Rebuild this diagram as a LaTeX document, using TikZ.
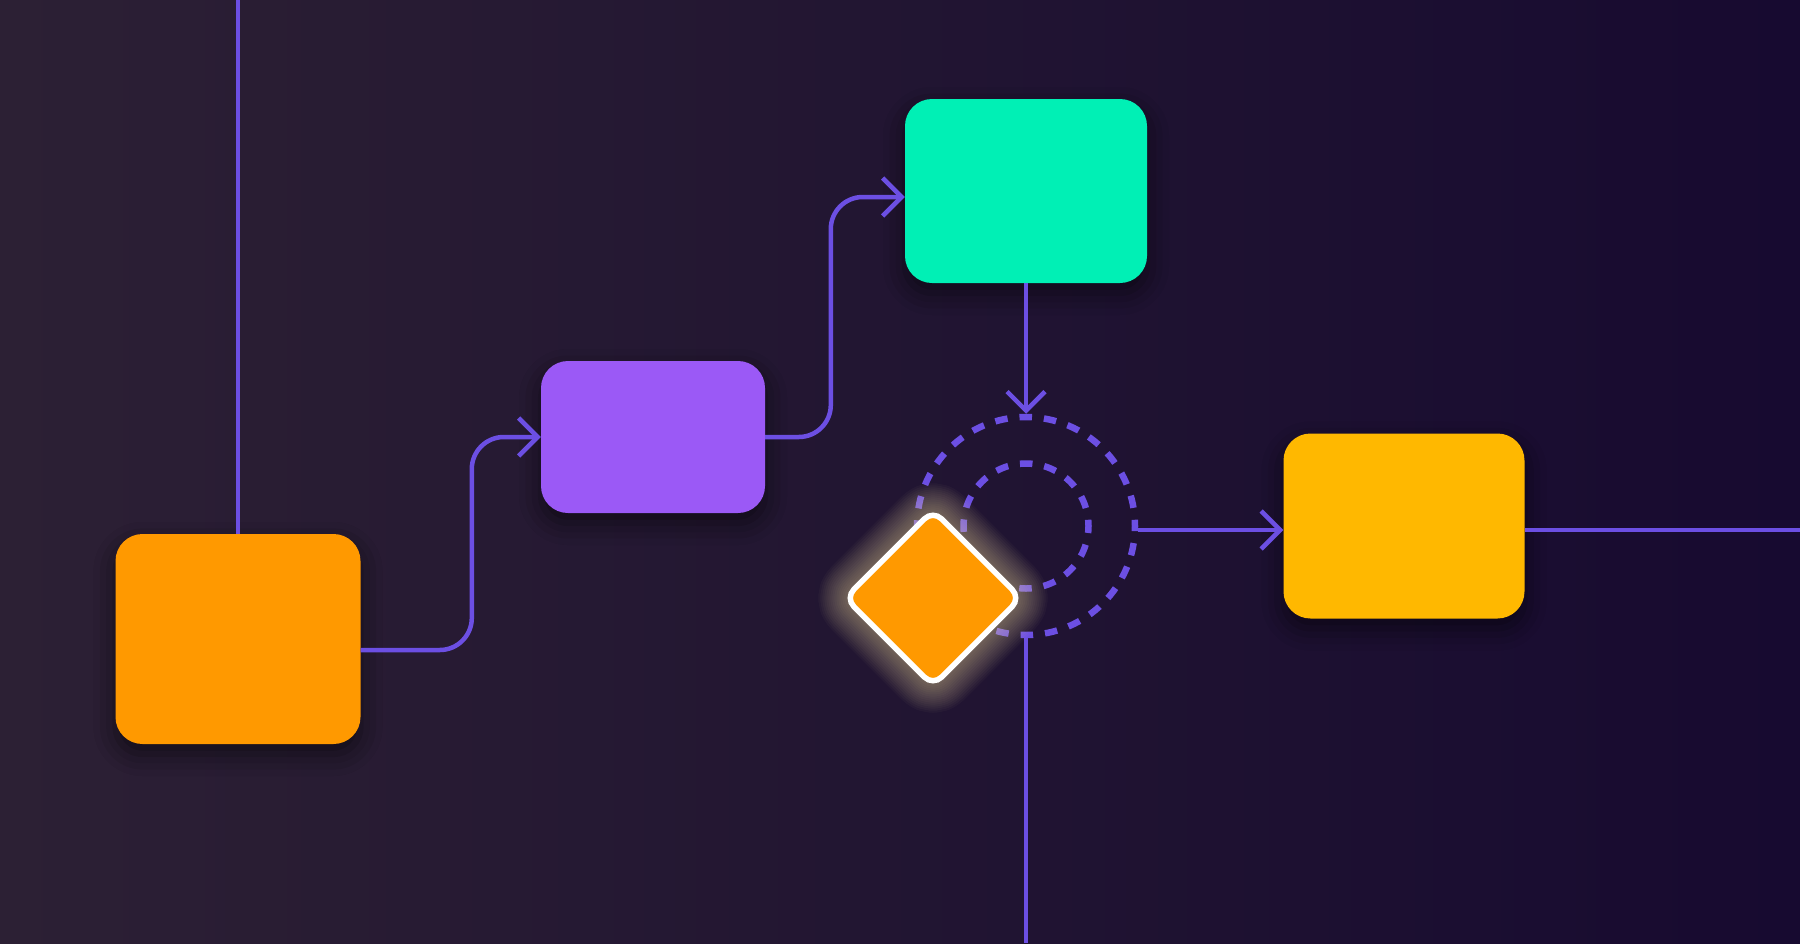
\documentclass[tikz,border=0pt]{standalone}
\usetikzlibrary{arrows.meta,shadows.blur}
\definecolor{bgL}{HTML}{2C2034}
\definecolor{bgM}{HTML}{251937}
\definecolor{bgR}{HTML}{170A30}
\definecolor{wirec}{HTML}{6C4FE3}
\definecolor{orangec}{HTML}{FF9900}
\definecolor{violetc}{HTML}{9B59F6}
\definecolor{greenc}{HTML}{00F0B5}
\definecolor{yellowc}{HTML}{FFB800}
\definecolor{glowc}{HTML}{FFEBA8}

\begin{document}
\begin{tikzpicture}[x=1pt,y=-1pt,
  card/.style={rectangle, rounded corners=27pt, inner sep=0pt,
    blur shadow={shadow xshift=0pt, shadow yshift=-10pt, shadow blur radius=22pt, shadow opacity=55}},
  wire/.style={draw=wirec, line width=4.5pt, rounded corners=32pt},
  wirearrow/.style={wire, -{Straight Barb[length=19pt,width=38pt]}},
  ring/.style={circle, draw=wirec, line width=6.5pt, inner sep=0pt, dash pattern=on 12.5pt off 12pt, dash phase=6.25pt},
  gate/.style={rectangle, rotate=45, minimum size=124pt, inner sep=0pt, rounded corners=12pt}]

  % background
  \shade[left color=bgL, middle color=bgM, right color=bgR] (0,0) rectangle (1800,943);
  \useasboundingbox (0,0) rectangle (1800,943);

  % cards
  \node[card, fill=orangec, minimum width=245pt, minimum height=210pt] (OrCa) at (238,639) {};
  \node[card, fill=violetc, minimum width=224pt, minimum height=152pt] (ViCa) at (653,437) {};
  \node[card, fill=greenc, minimum width=242pt, minimum height=184pt] (GrCa) at (1026,191) {};
  \node[card, fill=yellowc, minimum width=241pt, minimum height=185pt] (YeCa) at (1404,526) {};

  % rings round the gate
  \node[ring, minimum size=218pt] (OuRi) at (1026,526) {};
  \node[ring, minimum size=125pt] (InRi) at (1026,526) {};

  % free ends at the edges
  \coordinate (ToEd) at (238,0);
  \coordinate (RiEd) at (1800,530);
  \coordinate (BoEd) at (1026,943);

  \draw[wire] (ToEd) -- (OrCa.north);
  \draw[wirearrow] ([yshift=-11pt]OrCa.east) -| ([xshift=-69pt]ViCa.west) -- (ViCa.west);
  \draw[wirearrow] (ViCa.east) -| ([xshift=-74pt,yshift=-6pt]GrCa.west) -- ([yshift=-6pt]GrCa.west);
  \draw[wirearrow] (GrCa.south) -- (OuRi.north);
  \draw[wirearrow] ([yshift=-4pt]OuRi.east) -- ([yshift=-4pt]YeCa.west);
  \draw[wire] ([yshift=-4pt]YeCa.east) -- (RiEd);
  \draw[wire] (OuRi.south) -- (BoEd);

  % glow and gate
  \coordinate (GaCe) at (933,598);
  \foreach \w in {4,8,...,64}
    \node[gate, draw=glowc, line width=\w pt, line join=round, draw opacity=0.032] (Gl\w) at (GaCe) {};
  \node[gate, fill=orangec, draw=white, line width=5.5pt] (Ga) at (GaCe) {};

\end{tikzpicture}
\end{document}
